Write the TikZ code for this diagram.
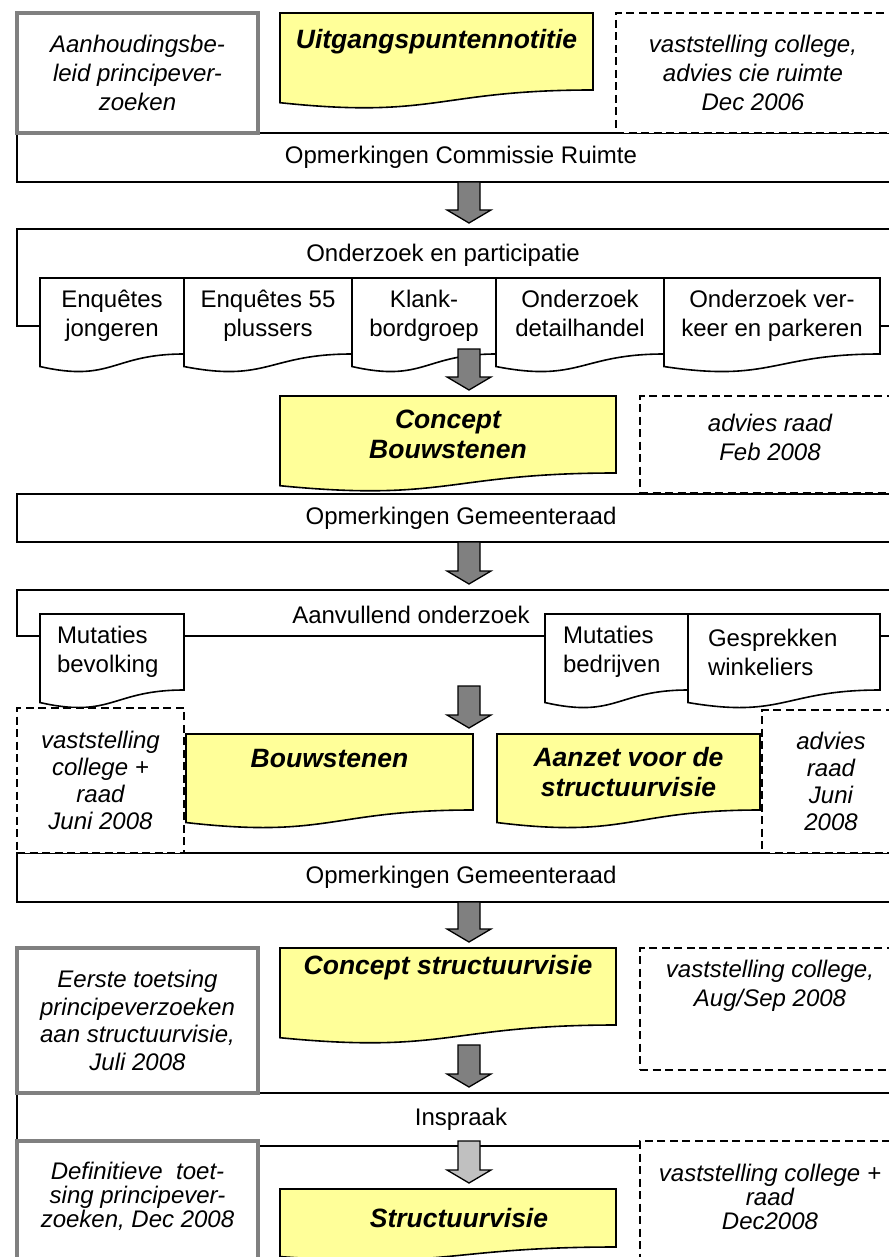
\documentclass[tikz,border=0pt]{standalone}
\usepackage{fontspec}
\setmainfont{Liberation Sans}
\usetikzlibrary{calc, backgrounds}

\definecolor{docyellow}{HTML}{FFFF99}
\definecolor{boxgray}{HTML}{808080}
\definecolor{arrowgray}{HTML}{808080}
\definecolor{arrowlight}{HTML}{C0C0C0}

% document shape with wavy bottom, drawn round a node (the node is the straight part)
\newcommand{\docshape}[2][white]{%
  \draw[fill=#1, line width=1.6pt] (#2.north west) -- (#2.north east) -- (#2.south east)
    .. controls (#2.south) and ($(#2.south)!-0.38!(#2.north)$)
    .. ($(#2.south west)!-0.165!(#2.north west)$) -- cycle;}

% thick grey arrow from #2 down to just above #3
\newcommand{\blockarrow}[3][arrowgray]{%
  \draw[fill=#1, line width=1.3pt] ($(#2)+(-11,0)$) -- ($(#2)+(11,0)$) -- ($(#3)+(11,-19)$)
    -- ($(#3)+(22,-19)$) -- ($(#3)+(0,-6)$) -- ($(#3)+(-22,-19)$) -- ($(#3)+(-11,-19)$) -- cycle;}

\begin{document}
\begin{tikzpicture}[x=1pt, y=-1pt, line width=1.6pt,
    txt/.style={font=\fontsize{24}{29}\selectfont, align=center, inner sep=0pt, outer sep=0pt},
    bar/.style={txt, draw, anchor=north west, minimum width=888pt, minimum height=49pt},
    graybox/.style={txt, draw=boxgray, line width=3.5pt, fill=white, anchor=north west,
      font=\fontsize{24}{29}\selectfont\itshape},
    notebox/.style={txt, draw, line width=1.5pt, dash pattern=on 8pt off 4.5pt, fill=white,
      anchor=north west, font=\fontsize{24}{29}\selectfont\itshape},
    lines/.style={font=\fontsize{24}{#1}\selectfont\itshape},
    docnode/.style={txt, anchor=north west},
    doctitle/.style={docnode, font=\fontsize{26.5}{30}\selectfont\bfseries\itshape},
    shiftup/.style={text depth=#1}]
  \useasboundingbox (0,0) rectangle (888,1257);

  % bars and frames
  \coordinate (frame1) at (17,229);
  \coordinate (frame2) at (17,590);
  \node[bar] (opm1) at (17,133) {Opmerkingen Commissie Ruimte};
  \node[bar, minimum height=48pt] (opm2) at (17,494) {Opmerkingen Gemeenteraad};
  \node[bar] (opm3) at (17,853) {Opmerkingen Gemeenteraad};
  \node[bar, minimum height=53pt] (insp) at (17,1093) {Inspraak};
  \node[txt] (onderz) at (443,255) {Onderzoek en participatie};
  \node[txt] (aanv) at (411,615) {Aanvullend onderzoek};

  % first row
  \node[graybox, minimum width=241pt, minimum height=120pt] (aanh) at (17,13)
    {Aanhoudingsbe-\\leid principever-\\zoeken};
  \node[doctitle, minimum width=313pt, minimum height=77pt, shiftup=25pt] (uitg) at (280,13)
    {Uitgangspuntennotitie};
  \node[notebox, minimum width=274pt, minimum height=120pt] (vast1) at (616,13)
    {vaststelling college,\\advies cie ruimte\\Dec 2006};

  % onderzoek en participatie
  \node[docnode, minimum width=144pt, minimum height=76pt] (enq1) at (40,278) {Enquêtes\\jongeren};
  \node[docnode, minimum width=168pt, minimum height=76pt] (enq2) at (184,278) {Enquêtes 55\\plussers};
  \node[docnode, minimum width=144pt, minimum height=76pt] (klank) at (352,278) {Klank-\\bordgroep};
  \node[docnode, minimum width=168pt, minimum height=76pt, shiftup=5pt] (detail) at (496,278) {Onderzoek\\detailhandel};
  \node[docnode, minimum width=216pt, minimum height=76pt] (verkeer) at (664,278) {Onderzoek ver-\\keer en parkeren};
  \draw (enq1.west |- 0,326) -- (17,326) -- (frame1) -- (905,229) -- (905,326) -- (verkeer.east |- 0,326);

  \node[doctitle, minimum width=336pt, minimum height=77pt] (concbouw) at (280,396)
    {Concept\\Bouwstenen};
  \node[notebox, minimum width=260pt, minimum height=97pt, shiftup=14pt] (advies1) at (640,396)
    {advies raad\\Feb 2008};

  % aanvullend onderzoek
  \node[docnode, minimum width=144pt, minimum height=76pt, text width=110pt, align=left] (mutbev) at (40,614)
    {Mutaties\\bevolking};
  \node[docnode, minimum width=143pt, minimum height=76pt, text width=107pt, align=left] (mutbed) at (545,614)
    {Mutaties\\bedrijven};
  \node[docnode, minimum width=192pt, minimum height=76pt, text width=152pt, align=left] (gespr) at (688,614)
    {Gesprekken\\winkeliers};
  \draw (mutbev.west |- 0,636) -- (17,636) -- (frame2) -- (905,590) -- (905,636) -- (gespr.east |- 0,636);
  \draw (mutbev.east |- 0,636) -- (mutbed.west |- 0,636);

  \node[notebox, lines=27, minimum width=167pt, minimum height=145pt] (vast2) at (17,708)
    {vaststelling\\college +\\raad\\Juni 2008};
  \node[doctitle, minimum width=287pt, minimum height=76pt, shiftup=28pt] (bouw) at (186,734) {Bouwstenen};
  \node[doctitle, minimum width=263pt, minimum height=76pt] (aanzet) at (497,734)
    {Aanzet voor de\\structuurvisie};
  \node[notebox, lines=27, minimum width=138pt, minimum height=143pt] (advies2) at (762,710)
    {advies\\raad\\Juni\\2008};

  % concept structuurvisie
  \node[graybox, lines=27.5, minimum width=241pt, minimum height=145pt] (eerste) at (17,948)
    {Eerste toetsing\\principeverzoeken\\aan structuurvisie,\\Juli 2008};
  \node[doctitle, minimum width=336pt, minimum height=77pt, shiftup=43pt] (concsv) at (280,948)
    {Concept structuurvisie};
  \node[notebox, minimum width=260pt, minimum height=122pt, shiftup=51pt] (vast3) at (640,948)
    {vaststelling college,\\Aug/Sep 2008};

  % structuurvisie
  \node[graybox, lines=24, minimum width=241pt, minimum height=130pt, shiftup=22pt] (defin) at (17,1141)
    {Definitieve~ toet-\\sing principever-\\zoeken, Dec 2008};
  \node[doctitle, minimum width=336pt, minimum height=58pt] (struct) at (280,1189)
    {\hspace*{22pt}Structuurvisie};
  \node[notebox, lines=24, minimum width=260pt, minimum height=130pt, shiftup=19pt] (vast4) at (640,1141)
    {vaststelling college +\\raad\\Dec2008};

  \begin{scope}[on background layer]
    \foreach \d in {uitg, concbouw, bouw, aanzet, concsv, struct} {\docshape[docyellow]{\d}}
    \foreach \d in {enq1, enq2, klank, detail, verkeer, mutbev, mutbed, gespr} {\docshape{\d}}
  \end{scope}

  \blockarrow{469,0 |- opm1.south}{469,0 |- frame1}
  \blockarrow{469,349}{469,0 |- concbouw.north}
  \blockarrow{469,0 |- opm2.south}{469,0 |- frame2}
  \blockarrow{469,686}{469,0 |- bouw.north}
  \blockarrow{469,0 |- opm3.south}{469,0 |- concsv.north}
  \blockarrow{469,1045}{469,0 |- insp.north}
  \blockarrow[arrowlight]{469,1141}{469,0 |- struct.north}
\end{tikzpicture}
\end{document}
